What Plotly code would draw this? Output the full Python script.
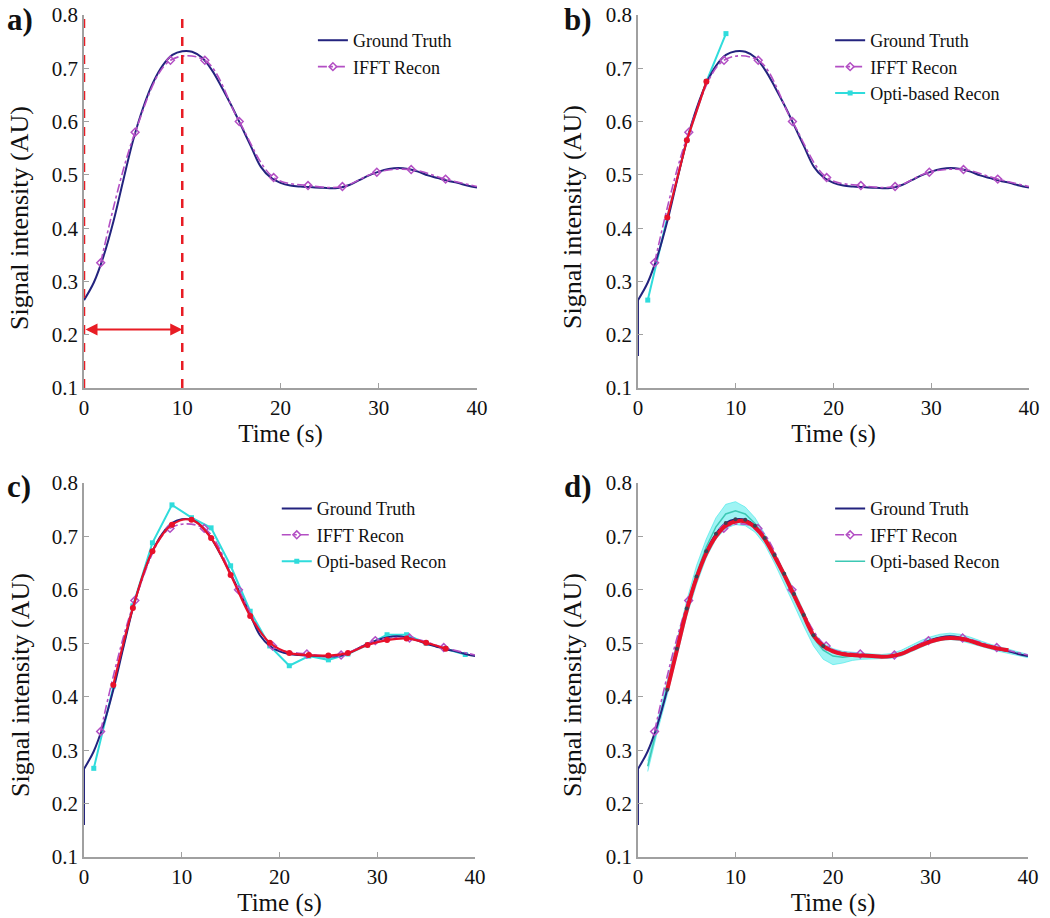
import plotly.graph_objects as go

# ---------------- data ----------------
gt_t = list(range(0, 41))
gt_v = [0.265, 0.298, 0.348, 0.413, 0.49, 0.565, 0.625, 0.672, 0.705, 0.725,
        0.732, 0.731, 0.72, 0.697, 0.665, 0.63, 0.592, 0.553, 0.515, 0.495,
        0.485, 0.48, 0.478, 0.477, 0.476, 0.475, 0.476, 0.481, 0.49, 0.499,
        0.506, 0.511, 0.513, 0.511, 0.506, 0.499, 0.494, 0.489, 0.485, 0.48,
        0.476]
gt_init_t = [0, 0]
gt_init_v = [0.16, 0.265]

ifft_t = [1.7, 5.2, 8.8, 12.3, 15.8, 19.3, 22.8, 26.3, 29.8, 33.3, 36.8]
ifft_v = [0.335, 0.58, 0.715, 0.715, 0.60, 0.495, 0.48, 0.478, 0.505, 0.51, 0.492]
ifft_end_t = [40]
ifft_end_v = [0.478]

opti_b_t = [1, 3, 5, 7, 9]
opti_b_v = [0.265, 0.42, 0.565, 0.675, 0.765]
red_b_t = [3, 5, 7]
red_b_v = [0.42, 0.565, 0.675]

opti_c_t = [1, 3, 5, 7, 9, 11, 13, 15, 17, 19, 21, 23, 25, 27, 29, 31, 33, 35, 37, 39]
opti_c_v = [0.266, 0.42, 0.57, 0.688, 0.759, 0.735, 0.716, 0.645, 0.56, 0.495,
            0.458, 0.476, 0.469, 0.48, 0.497, 0.516, 0.516, 0.5, 0.49, 0.479]
red_c_t = [3, 5, 7, 9, 11, 13, 15, 17, 19, 21, 23, 25, 27, 29, 31, 33, 35, 37]
red_c_v = [0.422, 0.566, 0.672, 0.722, 0.731, 0.697, 0.628, 0.551, 0.501, 0.482,
           0.478, 0.477, 0.482, 0.497, 0.506, 0.509, 0.501, 0.49]

band_t = list(range(1, 41))
band_up = [0.28, 0.355, 0.428, 0.505, 0.58, 0.645, 0.695, 0.735, 0.76, 0.765,
           0.755, 0.735, 0.705, 0.67, 0.635, 0.6, 0.56, 0.52, 0.5, 0.49,
           0.485, 0.483, 0.481, 0.48, 0.479, 0.481, 0.487, 0.496, 0.505, 0.512,
           0.517, 0.519, 0.517, 0.512, 0.505, 0.499, 0.494, 0.489, 0.484, 0.479]
band_lo = [0.26, 0.335, 0.403, 0.478, 0.55, 0.61, 0.66, 0.695, 0.715, 0.722,
           0.72, 0.708, 0.685, 0.65, 0.612, 0.572, 0.532, 0.495, 0.47, 0.46,
           0.463, 0.468, 0.47, 0.471, 0.471, 0.472, 0.476, 0.484, 0.493, 0.5,
           0.505, 0.507, 0.505, 0.5, 0.494, 0.489, 0.485, 0.481, 0.477, 0.473]
opti_d_v = [0.27, 0.345, 0.415, 0.492, 0.567, 0.63, 0.68, 0.718, 0.742, 0.748,
            0.742, 0.724, 0.697, 0.662, 0.625, 0.588, 0.548, 0.51, 0.487, 0.476,
            0.474, 0.476, 0.476, 0.476, 0.475, 0.477, 0.482, 0.49, 0.499, 0.506,
            0.511, 0.513, 0.511, 0.506, 0.5, 0.494, 0.489, 0.485, 0.48, 0.476]
red_d_t = [3, 4, 5, 6, 7, 8, 9, 10, 11, 12, 13, 14, 15, 16, 17, 18, 19, 20,
           21, 22, 23, 24, 25, 26, 27, 28, 29, 30, 31, 32, 33, 34, 35, 36, 37, 38]
red_d_v = [0.413, 0.488, 0.562, 0.622, 0.668, 0.7, 0.72, 0.728, 0.728, 0.717,
           0.695, 0.663, 0.628, 0.59, 0.552, 0.515, 0.495, 0.485, 0.48, 0.478,
           0.477, 0.476, 0.475, 0.476, 0.48, 0.488, 0.496, 0.503, 0.508, 0.51,
           0.509, 0.505, 0.499, 0.494, 0.49, 0.487]

window_t = [0, 10]
arrow_level = 0.21

x_ticks = [0, 10, 20, 30, 40]
y_ticks = [0.1, 0.2, 0.3, 0.4, 0.5, 0.6, 0.7, 0.8]
panel_labels = ["a)", "b)", "c)", "d)"]
legend_names = ["Ground Truth", "IFFT Recon", "Opti-based Recon"]
x_title = "Time (s)"
y_title = "Signal intensity (AU)"

# ---------------- styles ----------------
SERIF = "Liberation Serif, Times New Roman, serif"
C_GT = "#23237e"
C_IFFT = "#b34fc4"
C_OPTI = "#2fdcdc"
C_RED = "#e8102a"
C_AX = "#a0a0a0"

fig = go.Figure()

panels = [("x", "y", "legend"), ("x2", "y2", "legend2"),
          ("x3", "y3", "legend3"), ("x4", "y4", "legend4")]


def add(tr, p):
    tr.update(xaxis=panels[p][0], yaxis=panels[p][1], legend=panels[p][2])
    fig.add_trace(tr)


for p in range(4):
    # opti-based recon (under)
    if p == 1:
        add(go.Scatter(x=opti_b_t, y=opti_b_v, mode="lines+markers",
                       line=dict(color=C_OPTI, width=2),
                       marker=dict(symbol="square", size=5, color=C_OPTI),
                       name=legend_names[2], legendrank=3), p)
    elif p == 2:
        add(go.Scatter(x=opti_c_t, y=opti_c_v, mode="lines+markers",
                       line=dict(color=C_OPTI, width=2),
                       marker=dict(symbol="square", size=5, color=C_OPTI),
                       name=legend_names[2], legendrank=3), p)
    elif p == 3:
        add(go.Scatter(x=band_t, y=band_lo, mode="lines",
                       line=dict(color="rgba(60,230,230,0.6)", width=1),
                       showlegend=False, hoverinfo="skip"), p)
        add(go.Scatter(x=band_t, y=band_up, mode="lines", fill="tonexty",
                       fillcolor="rgba(80,235,235,0.55)",
                       line=dict(color="rgba(60,230,230,0.6)", width=1),
                       showlegend=False, hoverinfo="skip"), p)
        add(go.Scatter(x=band_t, y=opti_d_v, mode="lines",
                       line=dict(color="#3cc8b4", width=1.5),
                       name=legend_names[2], legendrank=3), p)

    # ground truth
    if p > 0:
        add(go.Scatter(x=gt_init_t, y=gt_init_v, mode="lines",
                       line=dict(color=C_GT, width=2), showlegend=False,
                       hoverinfo="skip"), p)
    add(go.Scatter(x=gt_t, y=gt_v, mode="lines", line=dict(color=C_GT, width=2, shape="spline"),
                   name=legend_names[0], legendrank=1), p)

    # IFFT recon
    add(go.Scatter(x=ifft_t + ifft_end_t, y=ifft_v + ifft_end_v, mode="lines",
                   line=dict(color=C_IFFT, width=1.6, dash="dashdot", shape="spline"),
                   showlegend=False, hoverinfo="skip"), p)
    add(go.Scatter(x=ifft_t, y=ifft_v, mode="markers",
                   marker=dict(symbol="diamond-open", size=6, color=C_IFFT,
                               line=dict(width=1.5, color=C_IFFT)),
                   showlegend=False), p)
    add(go.Scatter(x=[None], y=[None], mode="lines+markers",
                   line=dict(color=C_IFFT, width=1.6, dash="dashdot"),
                   marker=dict(symbol="diamond-open", size=6, color=C_IFFT,
                               line=dict(width=1.5, color=C_IFFT)),
                   name=legend_names[1], legendrank=2), p)

    # red reconstructed samples
    if p == 1:
        add(go.Scatter(x=red_b_t, y=red_b_v, mode="lines+markers",
                       line=dict(color=C_RED, width=2.2),
                       marker=dict(size=6, color=C_RED), showlegend=False), p)
    elif p == 2:
        add(go.Scatter(x=red_c_t, y=red_c_v, mode="lines+markers",
                       line=dict(color=C_RED, width=2.2, shape="spline"),
                       marker=dict(size=6, color=C_RED), showlegend=False), p)
    elif p == 3:
        add(go.Scatter(x=red_d_t, y=red_d_v, mode="lines",
                       line=dict(color=C_RED, width=4, shape="spline"),
                       showlegend=False), p)
        add(go.Scatter(x=gt_t[3:20], y=gt_v[3:20], mode="markers",
                       marker=dict(size=4, color="#404050"),
                       showlegend=False), p)

# ---------------- layout ----------------
x_domains = [[0.080, 0.4543], [0.6076, 0.980], [0.080, 0.4524], [0.6076, 0.979]]
y_domains = [[0.5773, 0.9837], [0.5773, 0.9837], [0.0664, 0.4739], [0.0664, 0.4739]]

axis_common = dict(showline=True, linecolor=C_AX, linewidth=1.5, ticks="inside",
                   ticklen=5, tickcolor=C_AX, showgrid=False, zeroline=False,
                   automargin=False,
                   tickfont=dict(family=SERIF, size=21, color="#111"))

layout = dict(width=1050, height=918, margin=dict(l=0, r=0, t=0, b=0, autoexpand=False),
              paper_bgcolor="white", plot_bgcolor="white", showlegend=True)

legend_pos = [(0.298, 0.976), (0.7906, 0.976), (0.2636, 0.466), (0.7906, 0.466)]

for i in range(4):
    sx = "" if i == 0 else str(i + 1)
    layout["xaxis" + sx] = dict(axis_common, domain=x_domains[i], range=[0, 40],
                                tickvals=x_ticks, anchor="y" + sx,
                                title=dict(text=x_title, standoff=2,
                                           font=dict(family=SERIF, size=25, color="#111")))
    layout["yaxis" + sx] = dict(axis_common, domain=y_domains[i], range=[0.1, 0.8],
                                tickvals=y_ticks, tickformat=".1f", anchor="x" + sx)
    lid = "legend" if i == 0 else "legend" + str(i + 1)
    layout[lid] = dict(x=legend_pos[i][0], y=legend_pos[i][1], xanchor="left",
                       yanchor="top", bgcolor="rgba(0,0,0,0)", traceorder="normal",
                       font=dict(family=SERIF, size=18, color="#111"),
                       itemwidth=30, tracegroupgap=0)

fig.update_layout(**layout)

# y-axis titles (placed as rotated annotations)
ytitle_pos = [(20 / 1050, 1 - 218 / 918), (572 / 1050, 1 - 217 / 918),
              (20 / 1050, 1 - 685 / 918), (572 / 1050, 1 - 685 / 918)]
for (px, py) in ytitle_pos:
    fig.add_annotation(text=y_title, x=px, y=py, xref="paper", yref="paper",
                       xanchor="center", yanchor="middle", textangle=-90,
                       showarrow=False, font=dict(family=SERIF, size=26, color="#111"))

# panel labels
label_pos = [(0.005, 1.0), (0.535, 1.0), (0.005, 0.491), (0.535, 0.491)]
for i, lab in enumerate(panel_labels):
    fig.add_annotation(text="<b>" + lab + "</b>", x=label_pos[i][0], y=label_pos[i][1],
                       xref="paper", yref="paper", xanchor="left", yanchor="top",
                       showarrow=False, font=dict(family=SERIF, size=31, color="#111"))

# panel a: analysis window
for tv in window_t:
    fig.add_shape(type="line", x0=tv, x1=tv, y0=0.1, y1=0.8, xref="x", yref="y",
                  line=dict(color="#e81c24", width=2.5, dash="dash"))
fig.add_annotation(x=window_t[1], y=arrow_level, ax=window_t[0], ay=arrow_level,
                   xref="x", yref="y", axref="x", ayref="y", text="",
                   showarrow=True, arrowside="end+start", arrowhead=2, arrowsize=1.2,
                   arrowwidth=2, arrowcolor="#e81c24")

fig.write_html("out.html", config={"displayModeBar": False},
               post_script="document.body.style.margin='0px';document.body.style.overflow='hidden';")
